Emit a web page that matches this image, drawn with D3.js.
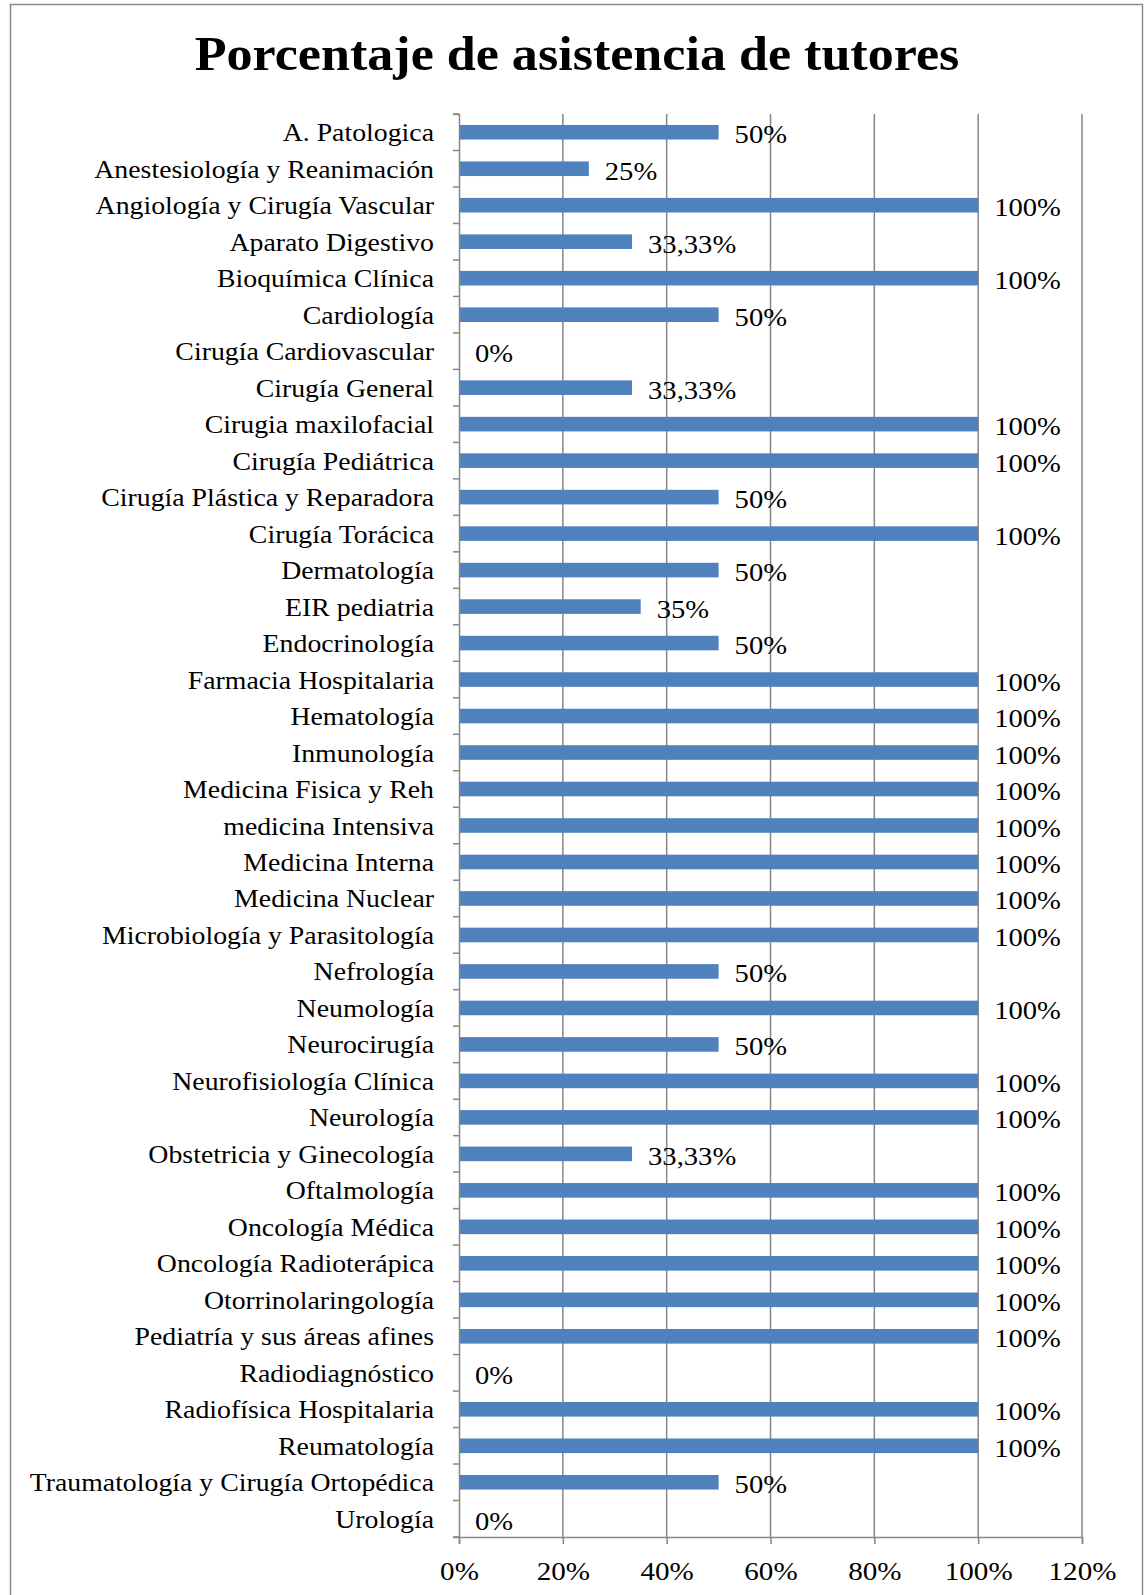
<!DOCTYPE html>
<html>
<head>
<meta charset="utf-8">
<script src="https://cdn.jsdelivr.net/npm/d3@7"></script>
<style>
  body { margin: 0; background: #fff; }
  text { font-family: "Liberation Serif", "DejaVu Serif", serif; fill: #000; }
</style>
</head>
<body>
<script>
var svgWidth = 1147;
var svgHeight = 1595;

var margin = { top: 114, right: 65, bottom: 58, left: 459 };
var width = svgWidth - margin.left - margin.right;
var height = svgHeight - margin.top - margin.bottom;

// categories top to bottom
var servicios = [
  "A. Patologica", "Anestesiología y Reanimación", "Angiología y Cirugía Vascular",
  "Aparato Digestivo", "Bioquímica Clínica", "Cardiología", "Cirugía Cardiovascular",
  "Cirugía General", "Cirugia maxilofacial", "Cirugía Pediátrica",
  "Cirugía Plástica y Reparadora", "Cirugía Torácica", "Dermatología", "EIR pediatria",
  "Endocrinología", "Farmacia Hospitalaria", "Hematología", "Inmunología",
  "Medicina Fisica y Reh", "medicina Intensiva", "Medicina Interna", "Medicina Nuclear",
  "Microbiología y Parasitología", "Nefrología", "Neumología", "Neurocirugía",
  "Neurofisiología Clínica", "Neurología", "Obstetricia y Ginecología", "Oftalmología",
  "Oncología Médica", "Oncología Radioterápica", "Otorrinolaringología",
  "Pediatría y sus áreas afines", "Radiodiagnóstico", "Radiofísica Hospitalaria",
  "Reumatología", "Traumatología y Cirugía Ortopédica", "Urología"
];

// asistencia (%)
var asistencia = [
  50, 25, 100, 33.33, 100, 50, 0, 33.33, 100, 100,
  50, 100, 50, 35, 50, 100, 100, 100, 100, 100,
  100, 100, 100, 50, 100, 50, 100, 100, 33.33, 100,
  100, 100, 100, 100, 0, 100, 100, 50, 0
];

var xTicks = [0, 20, 40, 60, 80, 100, 120];

var data = servicios.map(function(s, i) { return { name: s, value: asistencia[i] }; });

var svg = d3.select("body")
  .append("svg")
  .attr("width", svgWidth)
  .attr("height", svgHeight);

// outer frame (bottom edge falls outside the picture)
svg.append("rect")
  .attr("x", 10.5).attr("y", 4.5)
  .attr("width", 1132).attr("height", 1620)
  .attr("fill", "none").attr("stroke", "#8c8c8c").attr("stroke-width", 1.5);

// the source font is a bit wider than Liberation Serif, so stretch text a little
svg.append("text")
  .attr("transform", "translate(577,70) scale(1.085,1)")
  .attr("text-anchor", "middle")
  .style("font-size", "48px")
  .style("font-weight", "bold")
  .text("Porcentaje de asistencia de tutores");

var chartGroup = svg.append("g")
  .attr("transform", `translate(${margin.left}, ${margin.top})`);

var x = d3.scaleLinear().domain([0, 120]).range([0, width]);
var y = d3.scaleBand().domain(servicios).range([0, height]);

// gridlines
chartGroup.selectAll(".grid")
  .data(xTicks.slice(1))
  .enter()
  .append("line")
  .attr("x1", d => x(d)).attr("x2", d => x(d))
  .attr("y1", 0).attr("y2", height)
  .attr("stroke", "#868686").attr("stroke-width", 1.5);

// bars
chartGroup.selectAll(".bar")
  .data(data)
  .enter()
  .append("rect")
  .attr("x", 0)
  .attr("y", d => y(d.name) + y.bandwidth() * 0.3)
  .attr("width", d => x(d.value))
  .attr("height", y.bandwidth() * 0.4)
  .attr("fill", "#4f81bd");

// value labels
chartGroup.selectAll(".lbl")
  .data(data)
  .enter()
  .append("text")
  .attr("transform", d => `translate(${x(d.value) + 16}, ${y(d.name) + y.bandwidth() / 2 + 11}) scale(1.1,1)`)
  .style("font-size", "26px")
  .text(d => String(d.value).replace(".", ",") + "%");

// axes
var leftAxis = d3.axisLeft(y).tickSize(6).tickPadding(19).tickFormat(d => d);
var bottomAxis = d3.axisBottom(x).tickValues(xTicks).tickSize(7).tickPadding(14)
  .tickFormat(d => d + "%");

var ly = chartGroup.append("g").call(leftAxis);
// ticks on band boundaries, like the source
ly.selectAll(".tick line").attr("y1", -y.bandwidth() / 2).attr("y2", -y.bandwidth() / 2);
chartGroup.append("line")
  .attr("x1", -6).attr("x2", 0).attr("y1", height).attr("y2", height)
  .attr("stroke", "#868686").attr("stroke-width", 1.5);

var bx = chartGroup.append("g")
  .attr("transform", `translate(0, ${height})`)
  .call(bottomAxis);

[ly, bx].forEach(function(g) {
  g.select(".domain").attr("stroke", "#868686").attr("stroke-width", 1.5);
  g.selectAll(".tick line").attr("stroke", "#868686").attr("stroke-width", 1.5);
  g.selectAll("text").style("font-size", "26px").attr("font-family", null).attr("fill", "#000");
});
ly.selectAll("text")
  .attr("x", 0).attr("dy", null)
  .attr("transform", "translate(-25, 9) scale(1.07,1)");
bx.selectAll("text")
  .attr("y", 0).attr("dy", null)
  .attr("transform", "translate(0, 43) scale(1.12,1)");
</script>
</body>
</html>
